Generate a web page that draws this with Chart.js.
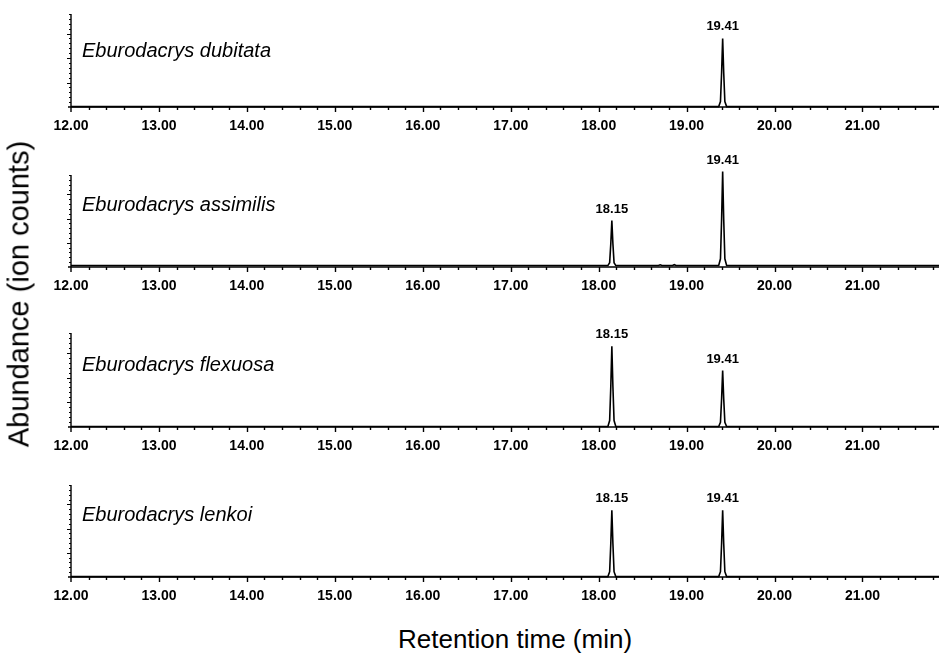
<!DOCTYPE html>
<html>
<head>
<meta charset="utf-8">
<script src="https://cdn.jsdelivr.net/npm/chart.js@4.4.0/dist/chart.umd.min.js"></script>
<style>
  body { margin: 0; background: #fff; width: 942px; height: 655px; overflow: hidden; position: relative;
         font-family: "Liberation Sans", Arial, sans-serif; }
  canvas { position: absolute; left: 0; }
  #tituloY { position: absolute; left: 19px; top: 294px; transform: translate(-50%, -50%) rotate(-90deg);
             white-space: nowrap; font-size: 29px; color: #000; }
  #tituloX { position: absolute; left: 515px; top: 624px; transform: translateX(-50%);
             white-space: nowrap; font-size: 26px; color: #000; }
</style>
</head>
<body>
<canvas id="c0"></canvas>
<canvas id="c1"></canvas>
<canvas id="c2"></canvas>
<canvas id="c3"></canvas>
<div id="tituloY">Abundance (ion counts)</div>
<div id="tituloX">Retention time (min)</div>
<script>
'use strict';

// especies y picos rotulados
const especies = ['Eburodacrys dubitata', 'Eburodacrys assimilis', 'Eburodacrys flexuosa', 'Eburodacrys lenkoi'];
const picosTR = [[19.41], [18.15, 19.41], [18.15, 19.41], [18.15, 19.41]];

// cromatogramas: tiempo (min) y abundancia
const trDubitata = [12.00, 19.365, 19.385, 19.398, 19.41, 19.422, 19.435, 19.455, 21.87];
const abDubitata = [800, 800, 11000, 70000, 140000, 70000, 11000, 800, 800];

const trAssimilis = [12.00, 18.105, 18.125, 18.138, 18.15, 18.162, 18.175, 18.195, 18.68, 18.70, 18.72, 18.84, 18.86, 18.88,
                     19.365, 19.385, 19.398, 19.41, 19.422, 19.435, 19.455, 21.87];
const abAssimilis = [3000, 3000, 9000, 48000, 96000, 48000, 9000, 3000, 3000, 4500, 3000, 3000, 4800, 3000,
                     3000, 17000, 98000, 197000, 98000, 17000, 3000, 3000];

const trFlexuosa = [12.00, 18.105, 18.125, 18.138, 18.15, 18.162, 18.175, 18.195, 19.365, 19.385, 19.398, 19.41, 19.422, 19.435, 19.455, 21.87];
const abFlexuosa = [900, 900, 13000, 82000, 163000, 82000, 13000, 900, 900, 9500, 57000, 114000, 57000, 9500, 900, 900];

const trLenkoi = [12.00, 18.105, 18.125, 18.138, 18.15, 18.162, 18.175, 18.195, 19.365, 19.385, 19.398, 19.41, 19.422, 19.435, 19.455, 21.87];
const abLenkoi = [800, 800, 11000, 69000, 138000, 69000, 11000, 800, 800, 11000, 69000, 138000, 69000, 11000, 800, 800];

const tiempos = [trDubitata, trAssimilis, trFlexuosa, trLenkoi];
const abundancias = [abDubitata, abAssimilis, abFlexuosa, abLenkoi];

// rejilla de ejes
const xMin = 12, xMax = 21.87, yMax = 190000;
const pasoMenorX = 0.2, pasoMenorY = 10000;

// colocacion de cada panel (px)
const panelArriba = [14, 175, 333, 485];
const panelAbajo = [107, 267, 427, 577];
const nombreBase = [43, 36, 38, 36];
const margenArriba = 30, altoEjeX = 23;

const fuente = '"Liberation Sans", Arial, sans-serif';

const marcasPlugin = {
  id: 'marcas',
  afterDraw(chart, args, opts) {
    const { ctx, chartArea: a, scales: { x, y } } = chart;
    const i = opts.panel;
    ctx.save();
    ctx.strokeStyle = '#000';
    ctx.fillStyle = '#000';
    ctx.lineWidth = 1.4;
    ctx.beginPath();
    // ejes
    ctx.moveTo(a.left, a.top);
    ctx.lineTo(a.left, a.bottom + 5);
    ctx.moveTo(a.left - 3, a.bottom);
    ctx.lineTo(a.right, a.bottom);
    // marcas del eje x
    for (let k = 1; xMin + k * pasoMenorX <= xMax; k++) {
      const px = Math.round(x.getPixelForValue(xMin + k * pasoMenorX)) + 0.5;
      ctx.moveTo(px, a.bottom);
      ctx.lineTo(px, a.bottom + (k % 5 === 0 ? 5 : 3));
    }
    ctx.stroke();
    // marcas del eje y
    ctx.lineWidth = 1;
    ctx.beginPath();
    for (let k = 1; k * pasoMenorY <= yMax; k++) {
      const py = Math.round(y.getPixelForValue(k * pasoMenorY)) + 0.5;
      ctx.moveTo(a.left, py);
      ctx.lineTo(a.left - (k % 5 === 0 ? 4 : 2), py);
    }
    ctx.stroke();

    // nombre de la especie
    ctx.font = 'italic 20px ' + fuente;
    ctx.textAlign = 'left';
    ctx.textBaseline = 'alphabetic';
    ctx.fillText(especies[i], 82, a.top + nombreBase[i]);

    // rotulos de los picos
    ctx.font = 'bold 13px ' + fuente;
    ctx.textAlign = 'center';
    const tr = tiempos[i], ab = abundancias[i];
    picosTR[i].forEach(t => {
      let alto = 0;
      tr.forEach((v, j) => { if (Math.abs(v - t) < 0.02) alto = Math.max(alto, ab[j]); });
      ctx.fillText(t.toFixed(2), x.getPixelForValue(t), y.getPixelForValue(alto) - 8);
    });
    ctx.restore();
  }
};

for (let i = 0; i < 4; i++) {
  const cv = document.getElementById('c' + i);
  cv.width = 942;
  cv.height = panelAbajo[i] - panelArriba[i] + margenArriba + altoEjeX;
  cv.style.top = (panelArriba[i] - margenArriba) + 'px';

  new Chart(cv, {
    type: 'line',
    data: {
      datasets: [{
        data: tiempos[i].map((t, j) => ({ x: t, y: abundancias[i][j] })),
        borderColor: '#000',
        borderWidth: 1.6,
        pointRadius: 0,
        tension: 0,
        clip: false
      }]
    },
    options: {
      responsive: false,
      animation: false,
      layout: { padding: { top: margenArriba, left: 71, right: 0, bottom: 0 } },
      plugins: { legend: { display: false }, tooltip: { enabled: false }, marcas: { panel: i } },
      scales: {
        x: {
          type: 'linear', min: xMin, max: xMax,
          grid: { display: false }, border: { display: false },
          ticks: {
            stepSize: 1, autoSkip: false, maxRotation: 0, padding: 3, color: '#000',
            font: { family: fuente, size: 14, weight: 'bold' },
            callback: v => Number.isInteger(v) ? v.toFixed(2) : ''
          },
          afterFit: s => { s.height = altoEjeX; }
        },
        y: { display: false, min: 0, max: yMax }
      }
    },
    plugins: [marcasPlugin]
  });
}
</script>
</body>
</html>
